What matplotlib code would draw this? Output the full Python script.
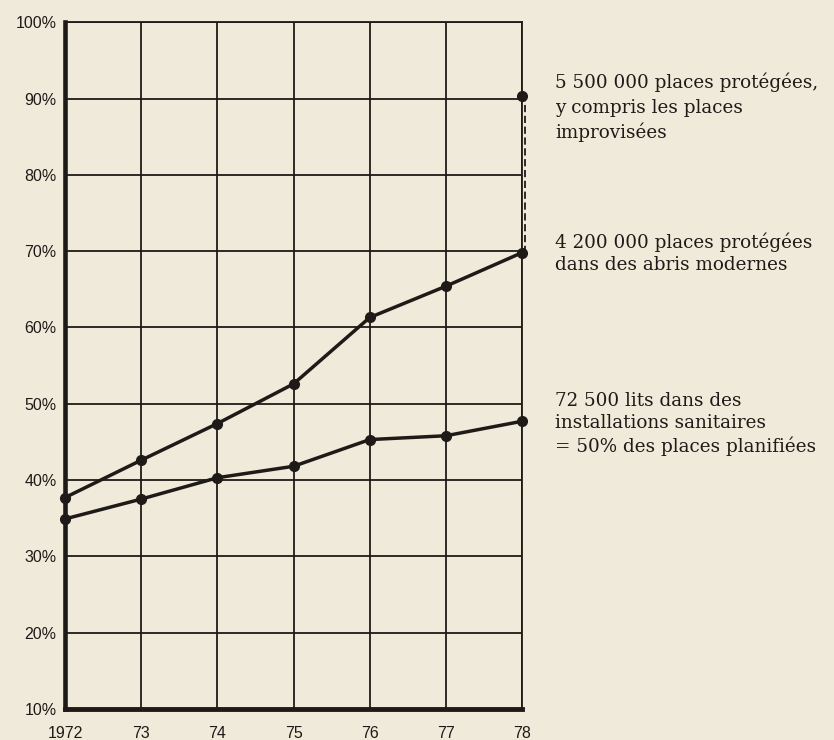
import matplotlib
matplotlib.use("Agg")
import matplotlib.pyplot as plt
import matplotlib.transforms as mtransforms

years = [1972, 1973, 1974, 1975, 1976, 1977, 1978]
year_labels = ["1972", "73", "74", "75", "76", "77", "78"]
modern_shelters = [37.7, 42.6, 47.4, 52.6, 61.3, 65.4, 69.8]
sanitary_beds = [34.9, 37.5, 40.3, 41.8, 45.3, 45.8, 47.7]
incl_improvised_year = 1978
incl_improvised_value = 90.3
y_ticks = [10, 20, 30, 40, 50, 60, 70, 80, 90, 100]
y_labels = ["10%", "20%", "30%", "40%", "50%", "60%", "70%", "80%", "90%", "100%"]

note_improvised = ["5 500 000 places protégées,", "y compris les places", "improvisées"]
note_modern = ["4 200 000 places protégées", "dans des abris modernes"]
note_sanitary = ["72 500 lits dans des", "installations sanitaires", "= 50% des places planifiées"]

bg = "#f0eadb"
ink = "#1e1a17"

fig = plt.figure(figsize=(8.34, 7.40), dpi=100, facecolor=bg)
ax = fig.add_axes([0.078, 0.042, 0.548, 0.928], facecolor=bg)
ax.set_xlim(1972, 1978)
ax.set_ylim(10, 100)

# grid
for y in y_ticks:
    ax.axhline(y, color=ink, lw=1.3, zorder=1)
for x in years:
    ax.axvline(x, color=ink, lw=1.3, zorder=1)

for s in ax.spines.values():
    s.set_color(ink)
ax.spines["left"].set_linewidth(3.3)
ax.spines["bottom"].set_linewidth(3.5)
ax.spines["top"].set_linewidth(1.3)
ax.spines["right"].set_linewidth(1.3)

ax.set_xticks(years)
ax.set_xticklabels(year_labels, fontfamily="Liberation Sans", fontsize=11.5)
ax.set_yticks(y_ticks)
ax.set_yticklabels(y_labels, fontfamily="Liberation Sans", fontsize=11.5)
ax.tick_params(length=0, colors=ink)
ax.tick_params(axis="x", pad=12)
ax.tick_params(axis="y", pad=6)

# dashed connector at 1978
off = mtransforms.offset_copy(ax.transData, fig=fig, x=3, y=0, units="dots")
ax.plot([incl_improvised_year, incl_improvised_year],
        [modern_shelters[-1], incl_improvised_value],
        color=ink, lw=1.3, ls=(0, (4, 2)), transform=off, zorder=3, clip_on=False)

ax.plot(years, modern_shelters, color=ink, lw=2.5, marker="o", ms=7, zorder=4, clip_on=False)
ax.plot(years, sanitary_beds, color=ink, lw=2.5, marker="o", ms=7, zorder=4, clip_on=False)
ax.plot([incl_improvised_year], [incl_improvised_value], color=ink, marker="o", ms=7,
        zorder=4, clip_on=False)

tfont = dict(fontfamily="DejaVu Serif", fontsize=13.2, color=ink, ha="left", va="baseline")
blocks = [(note_improvised, [91.4, 88.1, 84.8]),
          (note_modern, [70.4, 67.5]),
          (note_sanitary, [49.7, 46.8, 43.7])]
for lines, ys in blocks:
    for line, yv in zip(lines, ys):
        ax.annotate(line, xy=(1978, yv), xytext=(24, 0), textcoords="offset points",
                    annotation_clip=False, **tfont)

fig.savefig("out.png", dpi=100, facecolor=bg)
